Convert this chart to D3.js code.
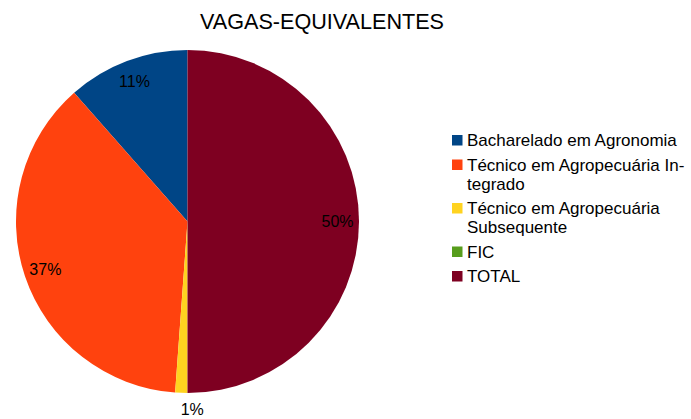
<!DOCTYPE html>
<html>
<head>
<meta charset="utf-8">
<script src="https://cdn.jsdelivr.net/npm/d3@7"></script>
<style>
  html, body { margin: 0; padding: 0; background: #fff; }
  svg { display: block; font-family: "Liberation Sans", Arial, sans-serif; }
</style>
</head>
<body>
<svg id="chart" width="691" height="419"></svg>
<script>
const title = "VAGAS-EQUIVALENTES";
const categories = [
  "Bacharelado em Agronomia",
  "Técnico em Agropecuária Integrado",
  "Técnico em Agropecuária Subsequente",
  "FIC",
  "TOTAL"
];
const legendLines = [
  ["Bacharelado em Agronomia"],
  ["Técnico em Agropecuária In-", "tegrado"],
  ["Técnico em Agropecuária", "Subsequente"],
  ["FIC"],
  ["TOTAL"]
];
const values = [40, 130, 4, 0, 174];
const colors = ["#004586", "#ff420e", "#ffd320", "#579d1c", "#7e0021"];

const svg = d3.select("#chart");
const cx = 187.5, cy = 221.5, R = 171.5;

svg.append("text")
  .attr("x", 322).attr("y", 29)
  .attr("text-anchor", "middle")
  .attr("font-size", 21.6)
  .attr("fill", "#000")
  .text(title);

const total = d3.sum(values);
const data = categories.map((c, i) => ({ name: c, value: values[i], color: colors[i] }));

// counter-clockwise from top
const pie = d3.pie().value(d => d.value).sort(null)
  .startAngle(0).endAngle(-2 * Math.PI);
const arcs = pie(data);
const arc = d3.arc().innerRadius(0).outerRadius(R);

const g = svg.append("g").attr("transform", `translate(${cx},${cy})`);
g.selectAll("path").data(arcs.filter(a => a.value > 0)).enter().append("path")
  .attr("d", arc)
  .attr("fill", d => d.data.color);

arcs.filter(a => a.value > 0).forEach(a => {
  const pct = a.value / total;
  const mid = (a.startAngle + a.endAngle) / 2;
  const label = d3.format(".0%")(pct);
  let r = 150, anchor = "middle";
  if (pct < 0.03) { r = 188; anchor = "start"; }
  const x = r * Math.sin(mid), y = -r * Math.cos(mid);
  g.append("text")
    .attr("x", x).attr("y", y)
    .attr("dy", "0.35em")
    .attr("text-anchor", anchor)
    .attr("font-size", 16)
    .attr("fill", "#000")
    .text(label);
});

// legend
const lg = svg.append("g");
let ly = 146;
const lineH = 19, gap = 5.5;
data.forEach((d, i) => {
  lg.append("rect")
    .attr("x", 452).attr("y", ly - 11)
    .attr("width", 10.5).attr("height", 10.5)
    .attr("fill", d.color);
  legendLines[i].forEach((t, j) => {
    lg.append("text")
      .attr("x", 467).attr("y", ly + j * lineH)
      .attr("font-size", 17)
      .attr("fill", "#000")
      .text(t);
  });
  ly += legendLines[i].length * lineH + gap;
});
</script>
</body>
</html>
